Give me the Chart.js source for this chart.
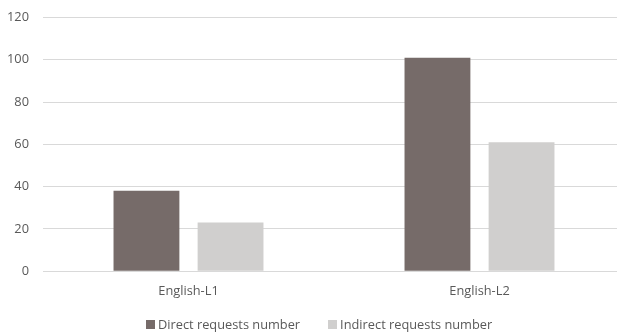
<!DOCTYPE html>
<html>
<head>
<meta charset="utf-8">
<script src="https://cdn.jsdelivr.net/npm/chart.js@4"></script>
<style>
  html, body { margin: 0; padding: 0; background: #fff; overflow: hidden; }
  #wrap { width: 625px; height: 332px; position: relative; }
  #legend { position: absolute; left: 146px; top: 316px; height: 16px; display: flex; align-items: center;
            font-family: 'Open Sans', sans-serif; font-size: 12.8px; color: #595959; white-space: nowrap; }
  #legend .item { display: flex; align-items: center; margin-right: 28px; }
  #legend .sw { width: 9px; height: 9px; margin-right: 3px; display: inline-block; }
</style>
</head>
<body>
<div id="wrap"><canvas id="c"></canvas><div id="legend"></div></div>
<script>
const categories = ["English-L1", "English-L2"];
const directRequests = [38, 101];
const indirectRequests = [23, 61];
const seriesNames = ["Direct requests number", "Indirect requests number"];
const seriesColors = ["#766B69", "#D0CFCE"];

const FONT = "'Open Sans', sans-serif";
const TEXT = "#595959";

const chart = new Chart(document.getElementById("c"), {
  type: "bar",
  data: {
    labels: categories,
    datasets: [
      { label: seriesNames[0], data: directRequests, backgroundColor: seriesColors[0],
        categoryPercentage: 0.578, barPercentage: 0.783 },
      { label: seriesNames[1], data: indirectRequests, backgroundColor: seriesColors[1],
        categoryPercentage: 0.578, barPercentage: 0.783 }
    ]
  },
  options: {
    responsive: true,
    maintainAspectRatio: false,
    animation: false,
    layout: { padding: { top: 17.5, left: 0, right: 0, bottom: 19.5 } },
    plugins: {
      tooltip: { enabled: false },
      legend: { display: false }
    },
    scales: {
      x: {
        grid: { display: false, drawTicks: false },
        border: { display: true, color: "#D9D9D9", width: 1 },
        ticks: { color: TEXT, font: { family: FONT, size: 12.8 }, padding: 13 }
      },
      y: {
        min: 0, max: 120,
        afterFit: (s) => { s.width = 43; s.paddingTop = 0; },
        grid: { color: "#D9D9D9", drawTicks: false },
        border: { display: false },
        ticks: { stepSize: 20, color: TEXT, font: { family: FONT, size: 12.8 }, padding: 14 }
      }
    }
  }
});

// HTML legend built from the chart's datasets
const legendEl = document.getElementById("legend");
chart.data.datasets.forEach((ds) => {
  const item = document.createElement("span");
  item.className = "item";
  const sw = document.createElement("span");
  sw.className = "sw";
  sw.style.background = ds.backgroundColor;
  item.appendChild(sw);
  item.appendChild(document.createTextNode(ds.label));
  legendEl.appendChild(item);
});
</script>
</body>
</html>
